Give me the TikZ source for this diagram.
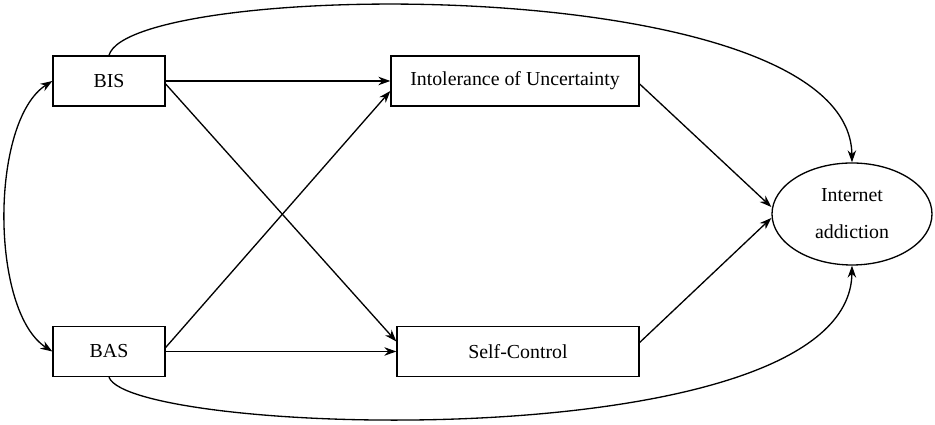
\documentclass[tikz,border=0pt]{standalone}
\usepackage{fontspec}
\setmainfont{Liberation Serif}
\usepackage{tikz}
\usetikzlibrary{arrows.meta,shapes.geometric}

\begin{document}
\begin{tikzpicture}[
		box/.style={draw, line width=0.75pt, minimum height=1.0cm, inner sep=0pt, font=\fontsize{11.3}{13.6}\selectfont},
		oval/.style={draw, ellipse, line width=0.75pt, minimum width=3.2cm, minimum height=2.04cm, inner sep=0pt, align=center, font=\fontsize{11.3}{21}\selectfont},
		path/.style={line width=0.75pt, -{Stealth[length=2.4mm,width=1.7mm]}}
	]
		%%%%% START %%%%%
		
		\useasboundingbox (0, 0) rectangle (18.7, 8.5);
		
		\node[box, minimum width=2.24cm] (bis) at (2.18, 6.88) {BIS};
		\node[box, minimum width=2.24cm] (bas) at (2.18, 1.47) {BAS};
		
		\node[box, minimum width=4.96cm] (iu) at (10.3, 6.88) {Intolerance of Uncertainty};
		\node[box, minimum width=4.84cm] (sc) at (10.36, 1.47) {Self-Control};
		
		\node[oval] (ia) at (17.04, 4.22) {Internet\\addiction};
		
		\draw[path] (bis.east) -- (iu.west);
		\draw[path] ([yshift=-0.06cm]bis.east) -- ([yshift=0.2cm]sc.west);
		\draw[path] ([yshift=0.08cm]bas.east) -- ([yshift=-0.2cm]iu.west);
		\draw[path] (bas.east) -- (sc.west);
		
		\draw[path] ([yshift=-0.06cm]iu.east) -- ([yshift=0.14cm]ia.west);
		\draw[path] ([yshift=0.18cm]sc.east) -- ([yshift=-0.08cm]ia.west);
		
		\draw[path, {Stealth[length=2.4mm,width=1.7mm]}-{Stealth[length=2.4mm,width=1.7mm]}] (bis.west) .. controls +(-1.25, -0.8) and +(-1.25, 0.8) .. (bas.west);
		
		\draw[path] (bis.north) .. controls +(0.42, 1.52) and +(-0.04, 3.86) .. (ia.north);
		\draw[path] (bas.south) .. controls +(0.42, -1.18) and +(-0.04, -3.9) .. (ia.south);
		
		%%%%% END %%%%%
	\end{tikzpicture}
\end{document}
